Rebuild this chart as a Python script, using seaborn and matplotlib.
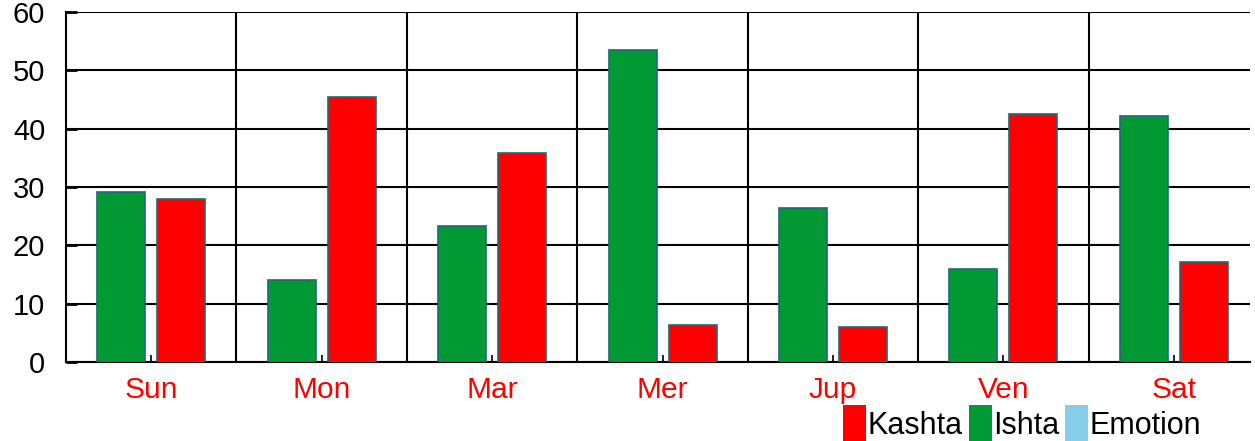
import matplotlib
matplotlib.use("Agg")
import matplotlib.pyplot as plt
from matplotlib.patches import Patch
from matplotlib.ticker import FixedLocator
import seaborn as sns
import pandas as pd

days = ["Sun", "Mon", "Mar", "Mer", "Jup", "Ven", "Sat"]
ishta = [29.1, 14.1, 23.3, 53.5, 26.4, 15.9, 42.2]
kashta = [27.9, 45.4, 35.8, 6.3, 6.0, 42.5, 17.1]
legend_labels = ["Kashta", "Ishta", "Emotion"]
legend_colors = ["#FF0000", "#009933", "#87CEEB"]
y_ticks = [0, 10, 20, 30, 40, 50, 60]

df = pd.DataFrame({
    "day": days * 2,
    "value": ishta + kashta,
    "series": ["Ishta"] * len(days) + ["Kashta"] * len(days),
})

sns.set_theme(style="white")
plt.rcParams["font.family"] = ["Liberation Sans", "DejaVu Sans"]
plt.rcParams["text.color"] = "black"

fig = plt.figure(figsize=(12.55, 4.41), dpi=100)
ax = fig.add_axes([66 / 1255, 1 - 362 / 441, (1250 - 66) / 1255, 350 / 441])

sns.barplot(data=df, x="day", y="value", hue="series", order=days,
            hue_order=["Ishta", "Kashta"],
            palette={"Ishta": "#009933", "Kashta": "#FF0000"}, saturation=1,
            width=0.704, gap=0.2, edgecolor="#1F6B75", linewidth=1.2,
            errorbar=None, legend=False, ax=ax, zorder=3)

ax.set_xlim(-0.5, 6.447)
ax.set_ylim(0, 60)
ax.set_yticks(y_ticks)
ax.xaxis.set_minor_locator(FixedLocator([i + 0.5 for i in range(len(days) - 1)]))
ax.set_axisbelow(True)
ax.grid(False)
ax.yaxis.grid(True, which="major", color="black", linewidth=1.5)
ax.xaxis.grid(True, which="minor", color="black", linewidth=1.5)

for side in ["top", "right"]:
    ax.spines[side].set_visible(False)
for side in ["left", "bottom"]:
    ax.spines[side].set_color("black")
    ax.spines[side].set_linewidth(1.5)

ax.tick_params(axis="y", direction="in", length=8, width=2, color="black",
               labelsize=21, labelcolor="black", pad=15, left=True)
ax.tick_params(axis="x", which="major", direction="in", length=5, width=1.2,
               color="black", labelsize=21.5, labelcolor="#FF0000", pad=10, bottom=True)
ax.tick_params(axis="x", which="minor", length=0)
ax.set_xlabel("")
ax.set_ylabel("")

handles = [Patch(facecolor=c, edgecolor="none") for c in legend_colors]
leg = fig.legend(handles, legend_labels, loc="upper left",
                 bbox_to_anchor=(843 / 1255, 1 - 405 / 441), ncol=3, frameon=False,
                 fontsize=22, handlelength=0.75, handleheight=1.5, handletextpad=0.05,
                 columnspacing=0.2, borderpad=0, borderaxespad=0)
for t in leg.get_texts():
    t.set_color("black")

fig.savefig("out.png", dpi=100)
